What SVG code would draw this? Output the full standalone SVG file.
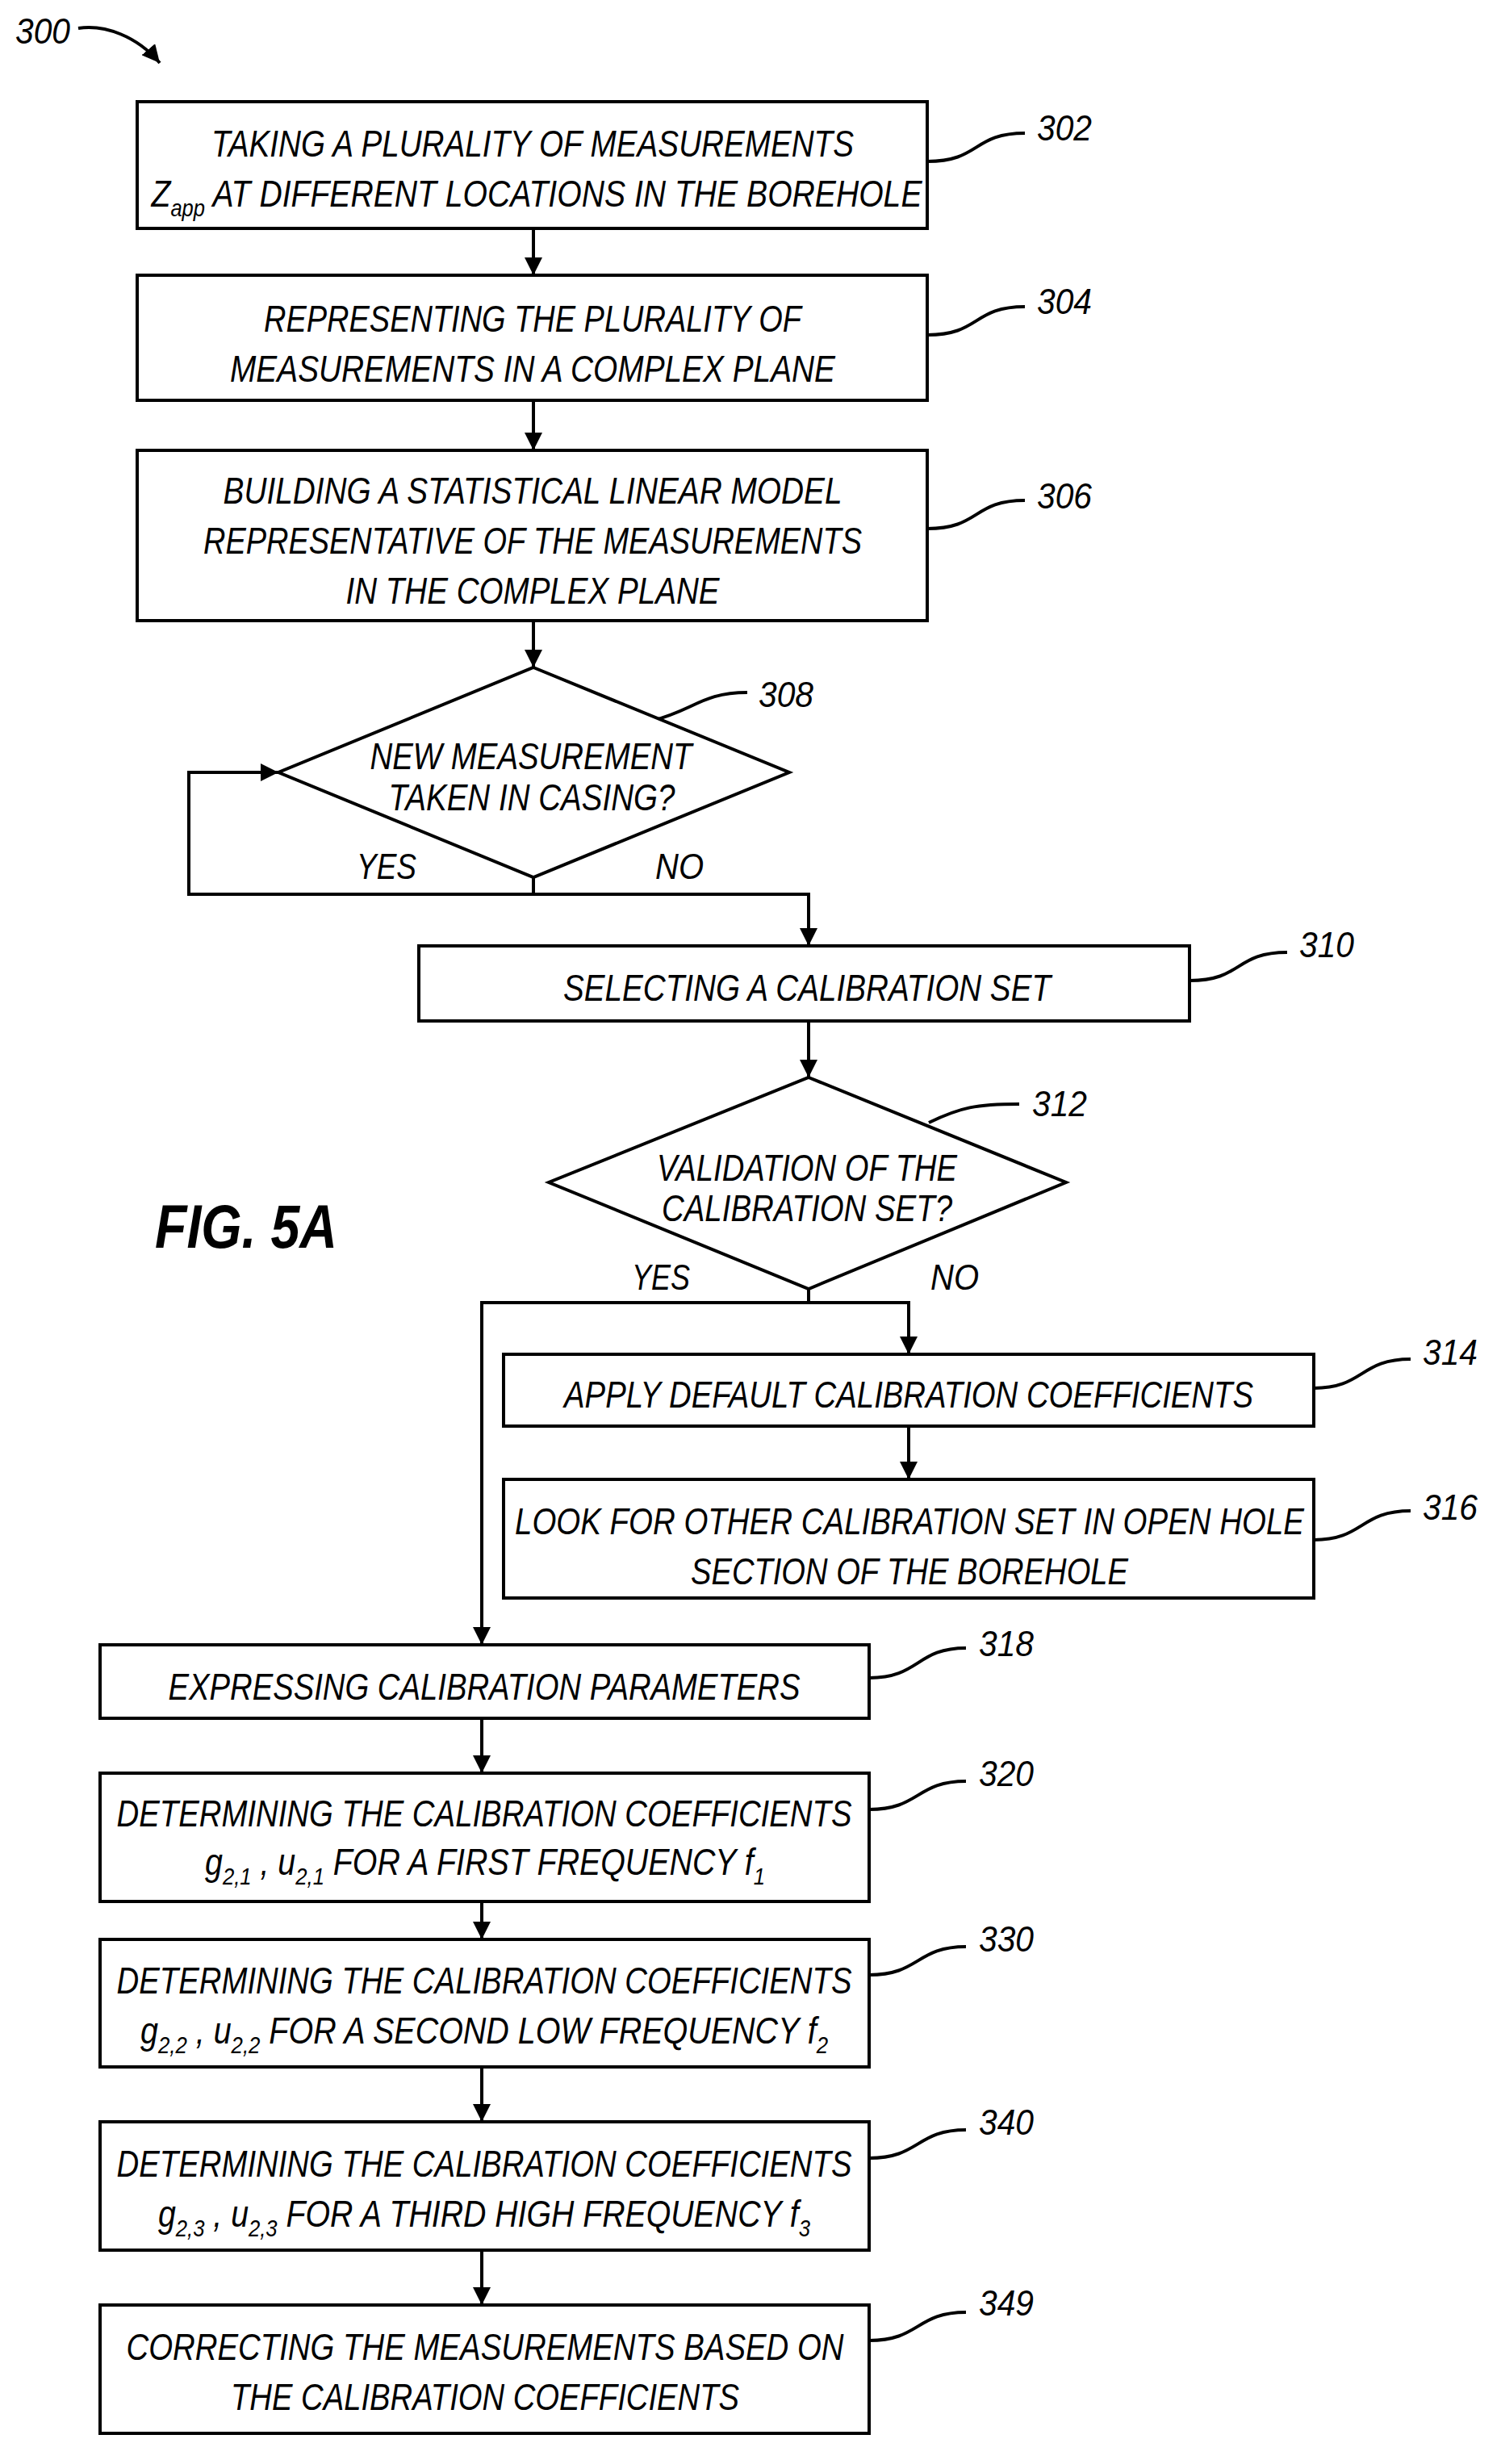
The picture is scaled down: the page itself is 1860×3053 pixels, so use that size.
<svg xmlns="http://www.w3.org/2000/svg" width="1860" height="3053" viewBox="0 0 1860 3053">
<style>
.b{fill:#fff;stroke:#000;stroke-width:4}
.c{fill:none;stroke:#000;stroke-width:4}
.t{font-family:"Liberation Sans",Arial,sans-serif;font-style:italic;font-size:46px;fill:#000;text-anchor:middle}
.l{font-family:"Liberation Sans",Arial,sans-serif;font-style:italic;font-size:44px;fill:#000}
.s{font-size:30px}
</style>
<defs>
<marker id="h" viewBox="0 0 10 10" refX="10" refY="5" markerWidth="22" markerHeight="22" orient="auto" markerUnits="userSpaceOnUse"><path d="M0,0L10,5L0,10z" fill="#000"/></marker></defs>
<g id="connectors">
<path class="c" d="M661,283V341" marker-end="url(#h)"/>
<path class="c" d="M661,496V558" marker-end="url(#h)"/>
<path class="c" d="M661,769V827" marker-end="url(#h)"/>
<path class="c" d="M1002,1265V1335" marker-end="url(#h)"/>
<path class="c" d="M1126,1767V1833" marker-end="url(#h)"/>
<path class="c" d="M597,2129V2197" marker-end="url(#h)"/>
<path class="c" d="M597,2356V2403" marker-end="url(#h)"/>
<path class="c" d="M597,2561V2629" marker-end="url(#h)"/>
<path class="c" d="M597,2788V2856" marker-end="url(#h)"/>
<path class="c" d="M661,1087V1108H234V957H345" marker-end="url(#h)"/>
<path class="c" d="M661,1108H1002V1172" marker-end="url(#h)"/>
<path class="c" d="M1002,1597V1614H597V2038" marker-end="url(#h)"/>
<path class="c" d="M1002,1614H1126V1678" marker-end="url(#h)"/>
<path class="c" d="M97,35C130,30 170,45 198,78" marker-end="url(#h)"/>
<path class="c" d="M1149,200C1215,200 1205,165 1270,165M1149,415C1215,415 1205,380 1270,380M1149,655C1215,655 1205,620 1270,620M808,893C860,880 870,858 926,858M1474,1215C1540,1215 1530,1180 1595,1180M1151,1391C1190,1372 1210,1368 1263,1368M1628,1720C1690,1720 1685,1684 1748,1684M1628,1908C1690,1908 1685,1872 1748,1872M1077,2079C1140,2079 1135,2042 1197,2042M1077,2242C1140,2242 1135,2207 1197,2207M1077,2447C1140,2447 1135,2412 1197,2412M1077,2674C1140,2674 1135,2639 1197,2639M1077,2900C1140,2900 1135,2865 1197,2865"/>
</g>
<text class="l" x="19" y="54" textLength="68" lengthAdjust="spacingAndGlyphs">300</text>
<g id="n302"><rect class="b" x="170" y="126" width="979" height="157"/>
<text class="t" x="660" y="194" textLength="796" lengthAdjust="spacingAndGlyphs">TAKING A PLURALITY OF MEASUREMENTS</text>
<text class="t" x="665" y="256" textLength="955" lengthAdjust="spacingAndGlyphs">Z<tspan class="s" dy="12">app</tspan><tspan dy="-12"> AT DIFFERENT LOCATIONS IN THE BOREHOLE</tspan></text>
<text class="l" x="1285" y="174" textLength="68" lengthAdjust="spacingAndGlyphs">302</text></g>
<g id="n304"><rect class="b" x="170" y="341" width="979" height="155"/>
<text class="t" x="660" y="411" textLength="666" lengthAdjust="spacingAndGlyphs">REPRESENTING THE PLURALITY OF</text>
<text class="t" x="660" y="473" textLength="750" lengthAdjust="spacingAndGlyphs">MEASUREMENTS IN A COMPLEX PLANE</text>
<text class="l" x="1285" y="389" textLength="68" lengthAdjust="spacingAndGlyphs">304</text></g>
<g id="n306"><rect class="b" x="170" y="558" width="979" height="211"/>
<text class="t" x="660" y="624" textLength="767" lengthAdjust="spacingAndGlyphs">BUILDING A STATISTICAL LINEAR MODEL</text>
<text class="t" x="660" y="686" textLength="816" lengthAdjust="spacingAndGlyphs">REPRESENTATIVE OF THE MEASUREMENTS</text>
<text class="t" x="660" y="748" textLength="463" lengthAdjust="spacingAndGlyphs">IN THE COMPLEX PLANE</text>
<text class="l" x="1285" y="630" textLength="68" lengthAdjust="spacingAndGlyphs">306</text></g>
<g id="n308"><path class="b" d="M661,827L978,957L661,1087L345,957z"/>
<text class="t" x="658" y="953" textLength="399" lengthAdjust="spacingAndGlyphs">NEW MEASUREMENT</text>
<text class="t" x="659" y="1004" textLength="355" lengthAdjust="spacingAndGlyphs">TAKEN IN CASING?</text>
<text class="l" x="940" y="876" textLength="68" lengthAdjust="spacingAndGlyphs">308</text>
<text class="l" x="442" y="1089" textLength="74" lengthAdjust="spacingAndGlyphs">YES</text>
<text class="l" x="812" y="1089" textLength="60" lengthAdjust="spacingAndGlyphs">NO</text></g>
<g id="n310"><rect class="b" x="519" y="1172" width="955" height="93"/>
<text class="t" x="1000" y="1240" textLength="604" lengthAdjust="spacingAndGlyphs">SELECTING A CALIBRATION SET</text>
<text class="l" x="1610" y="1186" textLength="68" lengthAdjust="spacingAndGlyphs">310</text></g>
<g id="n312"><path class="b" d="M1002,1335L1321,1465L1002,1597L680,1465z"/>
<text class="t" x="1000" y="1463" textLength="372" lengthAdjust="spacingAndGlyphs">VALIDATION OF THE</text>
<text class="t" x="1000" y="1513" textLength="360" lengthAdjust="spacingAndGlyphs">CALIBRATION SET?</text>
<text class="l" x="1279" y="1383" textLength="68" lengthAdjust="spacingAndGlyphs">312</text>
<text class="l" x="783" y="1598" textLength="72" lengthAdjust="spacingAndGlyphs">YES</text>
<text class="l" x="1153" y="1598" textLength="60" lengthAdjust="spacingAndGlyphs">NO</text></g>
<text x="192" y="1546" font-family="Liberation Sans,Arial,sans-serif" font-style="italic" font-weight="bold" font-size="76" textLength="226" lengthAdjust="spacingAndGlyphs">FIG. 5A</text>
<g id="n314"><rect class="b" x="624" y="1678" width="1004" height="89"/>
<text class="t" x="1126" y="1744" textLength="854" lengthAdjust="spacingAndGlyphs">APPLY DEFAULT CALIBRATION COEFFICIENTS</text>
<text class="l" x="1763" y="1691" textLength="68" lengthAdjust="spacingAndGlyphs">314</text></g>
<g id="n316"><rect class="b" x="624" y="1833" width="1004" height="147"/>
<text class="t" x="1127" y="1901" textLength="978" lengthAdjust="spacingAndGlyphs">LOOK FOR OTHER CALIBRATION SET IN OPEN HOLE</text>
<text class="t" x="1127" y="1963" textLength="542" lengthAdjust="spacingAndGlyphs">SECTION OF THE BOREHOLE</text>
<text class="l" x="1763" y="1883" textLength="68" lengthAdjust="spacingAndGlyphs">316</text></g>
<g id="n318"><rect class="b" x="124" y="2038" width="953" height="91"/>
<text class="t" x="600" y="2106" textLength="783" lengthAdjust="spacingAndGlyphs">EXPRESSING CALIBRATION PARAMETERS</text>
<text class="l" x="1213" y="2052" textLength="68" lengthAdjust="spacingAndGlyphs">318</text></g>
<g id="n320"><rect class="b" x="124" y="2197" width="953" height="159"/>
<text class="t" x="600" y="2263" textLength="911" lengthAdjust="spacingAndGlyphs">DETERMINING THE CALIBRATION COEFFICIENTS</text>
<text class="t" x="601" y="2323" textLength="694" lengthAdjust="spacingAndGlyphs">g<tspan class="s" dy="12">2,1</tspan><tspan dy="-12"> , u</tspan><tspan class="s" dy="12">2,1</tspan><tspan dy="-12"> FOR A FIRST FREQUENCY f</tspan><tspan class="s" dy="12">1</tspan></text>
<text class="l" x="1213" y="2213" textLength="68" lengthAdjust="spacingAndGlyphs">320</text></g>
<g id="n330"><rect class="b" x="124" y="2403" width="953" height="158"/>
<text class="t" x="600" y="2470" textLength="911" lengthAdjust="spacingAndGlyphs">DETERMINING THE CALIBRATION COEFFICIENTS</text>
<text class="t" x="600" y="2532" textLength="852" lengthAdjust="spacingAndGlyphs">g<tspan class="s" dy="12">2,2</tspan><tspan dy="-12"> , u</tspan><tspan class="s" dy="12">2,2</tspan><tspan dy="-12"> FOR A SECOND LOW FREQUENCY f</tspan><tspan class="s" dy="12">2</tspan></text>
<text class="l" x="1213" y="2418" textLength="68" lengthAdjust="spacingAndGlyphs">330</text></g>
<g id="n340"><rect class="b" x="124" y="2629" width="953" height="159"/>
<text class="t" x="600" y="2697" textLength="911" lengthAdjust="spacingAndGlyphs">DETERMINING THE CALIBRATION COEFFICIENTS</text>
<text class="t" x="600" y="2759" textLength="808" lengthAdjust="spacingAndGlyphs">g<tspan class="s" dy="12">2,3</tspan><tspan dy="-12"> , u</tspan><tspan class="s" dy="12">2,3</tspan><tspan dy="-12"> FOR A THIRD HIGH FREQUENCY f</tspan><tspan class="s" dy="12">3</tspan></text>
<text class="l" x="1213" y="2645" textLength="68" lengthAdjust="spacingAndGlyphs">340</text></g>
<g id="n349"><rect class="b" x="124" y="2856" width="953" height="159"/>
<text class="t" x="601" y="2924" textLength="889" lengthAdjust="spacingAndGlyphs">CORRECTING THE MEASUREMENTS BASED ON</text>
<text class="t" x="601" y="2986" textLength="630" lengthAdjust="spacingAndGlyphs">THE CALIBRATION COEFFICIENTS</text>
<text class="l" x="1213" y="2869" textLength="68" lengthAdjust="spacingAndGlyphs">349</text></g>
</svg>
